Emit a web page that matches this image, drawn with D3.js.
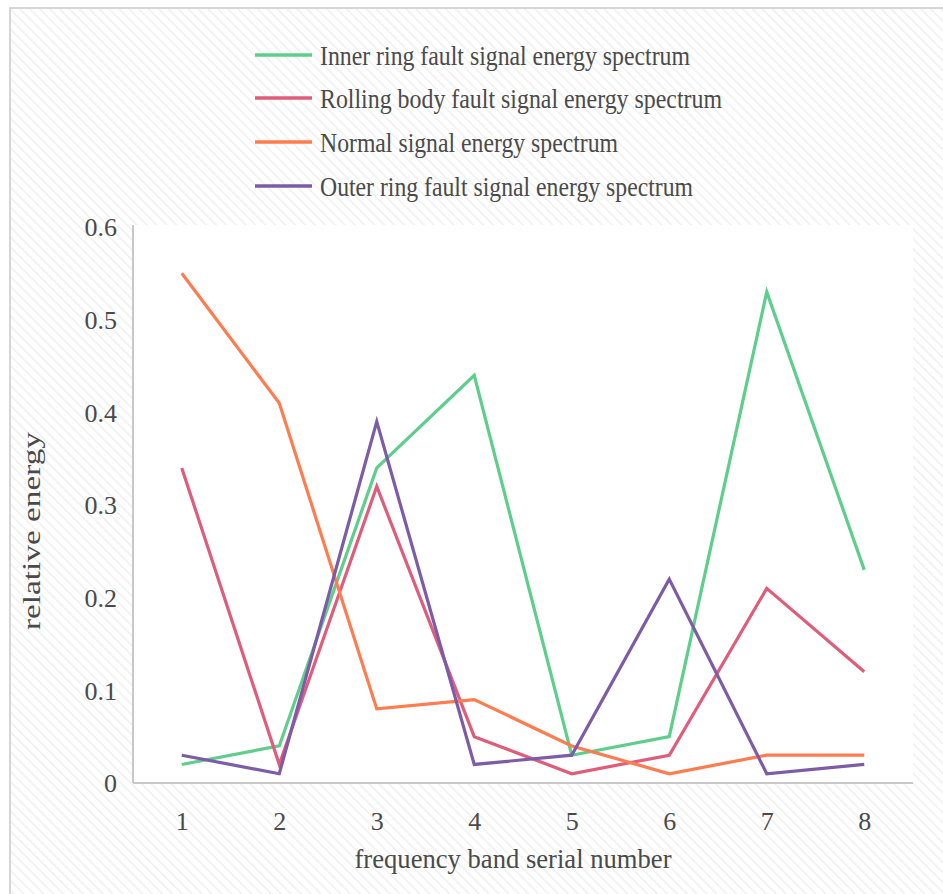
<!DOCTYPE html>
<html><head><meta charset="utf-8">
<script src="https://cdn.jsdelivr.net/npm/d3@7"></script>
<style>html,body{margin:0;padding:0;background:#fff;}svg{display:block;}</style>
</head><body>
<script>
const categories = ["1","2","3","4","5","6","7","8"];
const yTicks = [0, 0.1, 0.2, 0.3, 0.4, 0.5, 0.6];
const yTickLabels = ["0","0.1","0.2","0.3","0.4","0.5","0.6"];
const seriesNames = [
  "Inner ring fault signal energy spectrum",
  "Rolling body fault signal energy spectrum",
  "Normal signal energy spectrum",
  "Outer ring fault signal energy spectrum"
];
const innerRing = [0.02, 0.04, 0.34, 0.44, 0.03, 0.05, 0.53, 0.23];
const rollingBody = [0.34, 0.02, 0.32, 0.05, 0.01, 0.03, 0.21, 0.12];
const normalSig = [0.55, 0.41, 0.08, 0.09, 0.04, 0.01, 0.03, 0.03];
const outerRing = [0.03, 0.01, 0.39, 0.02, 0.03, 0.22, 0.01, 0.02];
const colors = ["#5dce8b", "#e05c7b", "#ff7c4f", "#7d5ba6"];
const legendWidths = [370, 402, 298, 373];

const W = 943, H = 894;
const svg = d3.select("body").append("svg").attr("width", W).attr("height", H);
const defs = svg.append("defs");
const pat = defs.append("pattern").attr("id","hatch").attr("patternUnits","userSpaceOnUse")
  .attr("width",7).attr("height",7).attr("patternTransform","rotate(-45)");
pat.append("rect").attr("width",7).attr("height",7).attr("fill","#ffffff");
pat.append("line").attr("x1",0).attr("y1",0).attr("x2",0).attr("y2",7)
  .attr("stroke","#efefef").attr("stroke-width",3);

svg.append("rect").attr("x",10).attr("y",8).attr("width",W).attr("height",H)
  .attr("fill","url(#hatch)").attr("stroke","#d6d6d6").attr("stroke-width",2);

const pLeft = 133, pRight = 913, pTop = 227, pBottom = 783;
svg.append("rect").attr("x",pLeft).attr("y",pTop-2).attr("width",pRight-pLeft).attr("height",pBottom-pTop+2).attr("fill","#fff");

const x = d3.scalePoint().domain(categories).range([pLeft, pRight]).padding(0.5);
const y = d3.scaleLinear().domain([0, 0.6]).range([pBottom, pTop]);

const font = "'Liberation Serif', 'DejaVu Serif', serif";
const textColor = "#4a4a4a";

// axes lines
svg.append("line").attr("x1",pLeft).attr("x2",pLeft).attr("y1",pTop-2).attr("y2",pBottom)
  .attr("stroke","#c8c8c8").attr("stroke-width",2);
svg.append("line").attr("x1",pLeft).attr("x2",pRight).attr("y1",pBottom).attr("y2",pBottom)
  .attr("stroke","#c8c8c8").attr("stroke-width",2);

// y tick labels
const yAxis = d3.axisLeft(y).tickValues(yTicks).tickSize(0).tickPadding(0)
  .tickFormat((d,i) => yTickLabels[i]);
const gy = svg.append("g").attr("transform",`translate(117,0)`).call(yAxis);
gy.select(".domain").remove();
gy.selectAll("text").attr("font-family",font).attr("font-size",26).attr("fill",textColor)
  .attr("dy","0.34em").attr("x",0);

// x tick labels
const xAxis = d3.axisBottom(x).tickSize(0).tickPadding(0);
const gx = svg.append("g").attr("transform",`translate(0,812)`).call(xAxis);
gx.select(".domain").remove();
gx.selectAll("text").attr("font-family",font).attr("font-size",26).attr("fill",textColor).attr("dy","0.71em");

// lines
const allSeries = [innerRing, rollingBody, normalSig, outerRing];
const line = d3.line().x((d,i) => x(categories[i])).y(d => y(d));
allSeries.forEach((s, k) => {
  svg.append("path").datum(s).attr("d", line).attr("fill","none")
    .attr("stroke", colors[k]).attr("stroke-width",3.2).attr("stroke-linejoin","miter");
});

// legend
const legendY = [55, 98, 142, 186];
seriesNames.forEach((name, k) => {
  svg.append("line").attr("x1",255).attr("x2",312).attr("y1",legendY[k]).attr("y2",legendY[k])
    .attr("stroke", colors[k]).attr("stroke-width",3.5);
  svg.append("text").attr("x",320).attr("y",legendY[k]+10).attr("font-family",font)
    .attr("font-size",28).attr("fill",textColor)
    .attr("textLength",legendWidths[k]).attr("lengthAdjust","spacingAndGlyphs").text(name);
});

// axis titles
svg.append("text").attr("x",513).attr("y",868).attr("text-anchor","middle")
  .attr("font-family",font).attr("font-size",27).attr("fill",textColor)
  .attr("textLength",317).attr("lengthAdjust","spacingAndGlyphs").text("frequency band serial number");
svg.append("text").attr("transform","translate(40,531) rotate(-90)").attr("text-anchor","middle")
  .attr("font-family",font).attr("font-size",25).attr("fill",textColor)
  .attr("textLength",198).attr("lengthAdjust","spacingAndGlyphs").text("relative energy");
</script>
</body></html>
